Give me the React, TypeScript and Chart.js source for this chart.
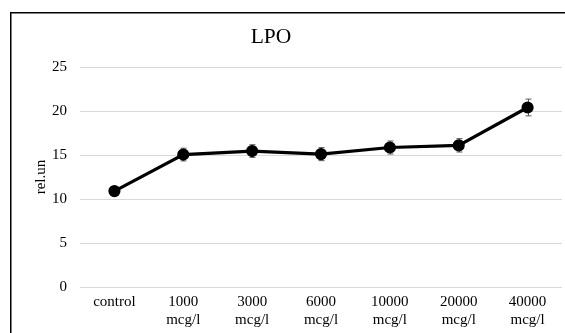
import React, { useEffect, useRef } from "react";
import { Chart, registerables } from "chart.js";

Chart.register(...registerables);

const categories: (string | string[])[] = [
  "control",
  ["1000", "mcg/l"],
  ["3000", "mcg/l"],
  ["6000", "mcg/l"],
  ["10000", "mcg/l"],
  ["20000", "mcg/l"],
  ["40000", "mcg/l"],
];
const lpoValues = [10.9, 15.05, 15.45, 15.1, 15.85, 16.1, 20.4];
const lpoErrors = [0.4, 0.72, 0.72, 0.74, 0.74, 0.76, 0.95];
const chartTitle = "LPO";
const yAxisTitle = "rel.un";

const FONT = "'Liberation Serif', 'Times New Roman', serif";

const extrasPlugin = {
  id: "extras",
  beforeDraw(chart: any) {
    const ctx = chart.ctx;
    ctx.save();
    ctx.fillStyle = "#ffffff";
    ctx.fillRect(0, 0, chart.width, chart.height);
    ctx.strokeStyle = "#000000";
    ctx.lineWidth = 1.5;
    ctx.strokeRect(10.75, 12.75, 700, 500);
    ctx.fillStyle = "#000000";
    ctx.font = `21.5px ${FONT}`;
    ctx.textAlign = "center";
    ctx.textBaseline = "middle";
    ctx.fillText(chartTitle, 271, 37);
    ctx.restore();
  },
  beforeDatasetsDraw(chart: any) {
    const ctx = chart.ctx;
    const meta = chart.getDatasetMeta(0);
    const y = chart.scales.y;
    ctx.save();
    ctx.strokeStyle = "#595959";
    ctx.lineWidth = 1;
    meta.data.forEach((pt: any, i: number) => {
      const v = lpoValues[i];
      const e = lpoErrors[i];
      const x = Math.round(pt.x) + 0.5;
      const yt = y.getPixelForValue(v + e);
      const yb = y.getPixelForValue(v - e);
      ctx.beginPath();
      ctx.moveTo(x, yt);
      ctx.lineTo(x, yb);
      ctx.moveTo(x - 3, yt);
      ctx.lineTo(x + 3, yt);
      ctx.moveTo(x - 3, yb);
      ctx.lineTo(x + 3, yb);
      ctx.stroke();
    });
    ctx.restore();
  },
};

export default function App() {
  const ref = useRef<HTMLCanvasElement>(null);
  useEffect(() => {
    if (!ref.current) return;
    const chart = new Chart(ref.current, {
      type: "line",
      data: {
        labels: categories,
        datasets: [
          {
            data: lpoValues,
            borderColor: "#000000",
            backgroundColor: "#000000",
            borderWidth: 3.2,
            pointRadius: 4.5,
            pointBackgroundColor: "#000000",
            pointBorderColor: "#000000",
            tension: 0,
          },
        ],
      },
      options: {
        animation: false,
        responsive: false,
        events: [],
        layout: { autoPadding: false, padding: { top: 67, left: 31, right: 3, bottom: 4 } },
        plugins: {
          legend: { display: false },
          tooltip: { enabled: false },
          title: { display: false },
        },
        scales: {
          x: {
            offset: true,
            afterFit: (scale: any) => {
              scale.height = 42;
              scale.paddingLeft = 0;
              scale.paddingRight = 0;
            },
            grid: { display: false, drawTicks: false },
            border: { display: false },
            ticks: {
              color: "#000000",
              font: { family: FONT, size: 15 },
              padding: 6,
              maxRotation: 0,
              autoSkip: false,
            },
          },
          y: {
            min: 0,
            max: 25,
            afterFit: (scale: any) => {
              scale.width = 49;
            },
            grid: { color: "#d9d9d9", lineWidth: 1, drawTicks: false },
            border: { display: false },
            ticks: {
              stepSize: 5,
              color: "#000000",
              font: { family: FONT, size: 15 },
              padding: 13,
            },
            title: {
              display: true,
              text: yAxisTitle,
              color: "#000000",
              font: { family: FONT, size: 15 },
              padding: 1,
            },
          },
        },
      },
      plugins: [extrasPlugin],
    });
    return () => chart.destroy();
  }, []);
  return (
    <div style={{ position: "fixed", left: 0, top: 0, width: 565, height: 333 }}>
      <canvas ref={ref} width={565} height={333} style={{ width: 565, height: 333 }} />
    </div>
  );
}
